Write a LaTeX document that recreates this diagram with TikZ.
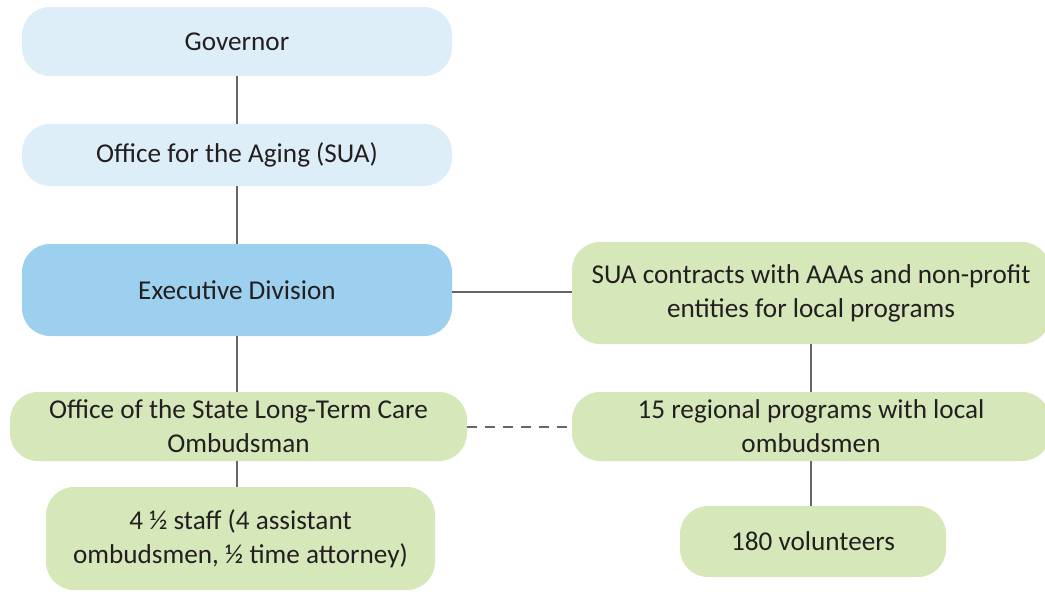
\documentclass[tikz,border=0pt]{standalone}
\usepackage{fontspec}
\setmainfont{Carlito}
\usepackage{tikz}
\usetikzlibrary{calc}

\definecolor{paleblue}{HTML}{DEEEF9}
\definecolor{midblue}{HTML}{9DD0EE}
\definecolor{palegreen}{HTML}{D6E8BA}
\definecolor{linegray}{HTML}{666666}
\definecolor{textdark}{HTML}{231F20}

\begin{document}
\begin{tikzpicture}[x=1pt, y=-1pt,
	box/.style={rounded corners=28pt, inner sep=0pt, align=center,
		text=textdark, font=\fontsize{27.2}{34}\selectfont},
	bluebox/.style={box, fill=paleblue},
	execbox/.style={box, fill=midblue},
	greenbox/.style={box, fill=palegreen},
	link/.style={draw=linegray, line width=2pt}]
	\useasboundingbox (0,0) rectangle (1045,592);

	\node[bluebox, minimum width=430pt, minimum height=69pt] (gov) at (237,41.5) {Governor};
	\node[bluebox, minimum width=430pt, minimum height=62pt] (sua) at (237,155) {Office for the Aging (SUA)};
	\node[execbox, minimum width=430pt, minimum height=92pt] (exec) at (237,290) {Executive Division};
	\node[greenbox, minimum width=478pt, minimum height=102pt] (contracts) at (811,293)
		{SUA contracts with AAAs and non-profit\\entities for local programs};
	\node[greenbox, minimum width=457pt, minimum height=69pt] (ltco) at (238.5,426.5)
		{Office of the State Long-Term Care\\Ombudsman};
	\node[greenbox, minimum width=478pt, minimum height=69pt] (regional) at (811,426.5)
		{15 regional programs with local\\ombudsmen};
	\node[greenbox, minimum width=389pt, minimum height=103pt] (staff) at (240.5,538.5)
		{4 ½ staff (4 assistant\\ombudsmen, ½ time attorney)};
	\node[greenbox, minimum width=266pt, minimum height=71pt] (vols) at (813,541.5) {180 volunteers};

	% connectors
	\draw[link] (gov.south) -- (sua.north);
	\draw[link] (sua.south) -- (exec.north);
	\draw[link] (exec.south) -- (exec.south |- ltco.north);
	\draw[link] (exec.south |- ltco.south) -- (exec.south |- staff.north);
	\draw[link] (exec.east |- 0,292) -- (contracts.west |- 0,292);
	\draw[link] (contracts.south) -- (regional.north);
	\draw[link] (regional.south) -- (regional.south |- vols.north);
	\draw[link, dash pattern=on 10pt off 8pt] (ltco.east) -- (regional.west);
\end{tikzpicture}
\end{document}
